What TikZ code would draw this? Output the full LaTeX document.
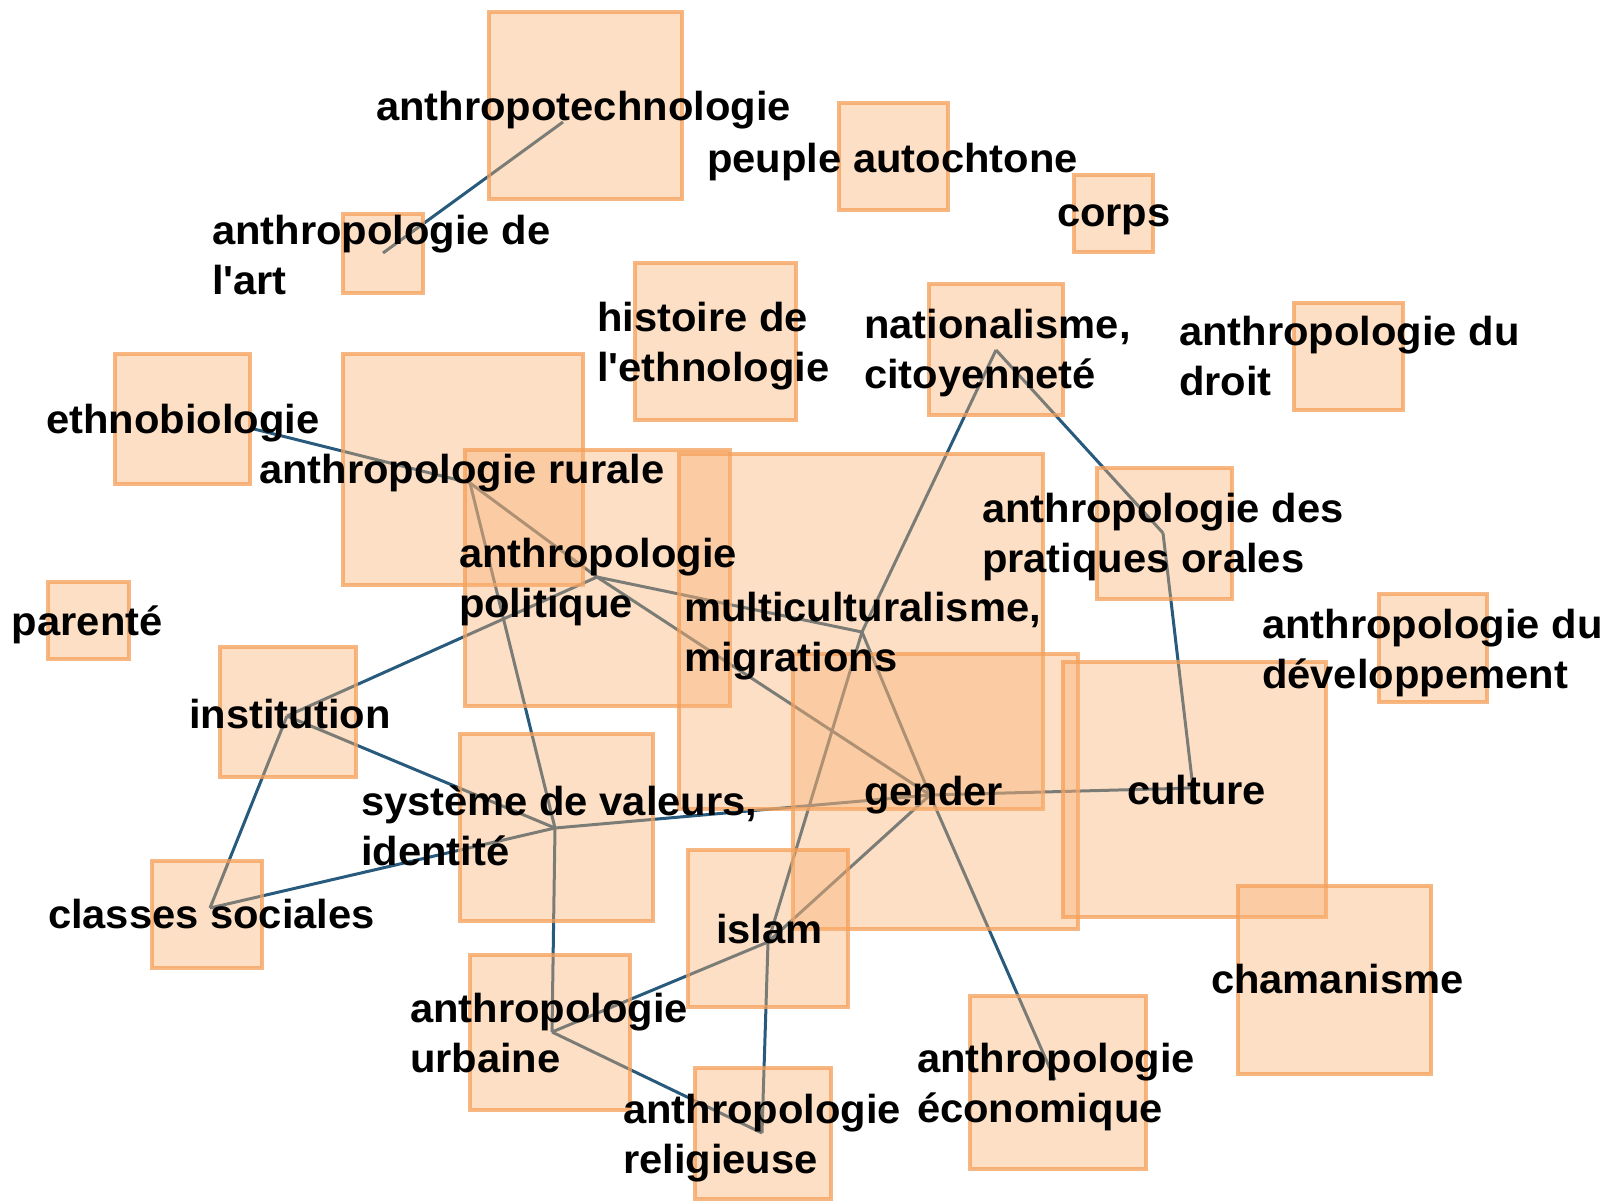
\documentclass[tikz,border=0pt]{standalone}
\usepackage{fontspec}
\newfontfamily\lblfont{Liberation Sans}[FakeStretch=1.03]
\definecolor{boxfill}{RGB}{250,177,112}
\definecolor{boxline}{RGB}{245,160,90}
\definecolor{edgecol}{RGB}{40,90,125}
\newcommand\conceptbox[5]{%
  \node[box, minimum width={(#4-#2)*1pt}, minimum height={(#5-#3)*1pt}] (b-#1) at ({(#2+#4)/2},{(#3+#5)/2}) {};}
\begin{document}
\begin{tikzpicture}[x=1pt,y=-1pt,
  box/.style={draw=boxline, draw opacity=0.75, line width=4pt, fill=boxfill, fill opacity=0.4, inner sep=0pt, outer sep=0pt},
  lbl/.style={font=\lblfont\fontsize{40.5}{50}\selectfont\bfseries, inner sep=0pt, outer sep=0pt, align=left, anchor=base west, text=black},
  link/.style={draw=edgecol, line width=3pt}]
\useasboundingbox (0,0) rectangle (1614,1203);
\fill[white] (0,0) rectangle (1614,1203);

% hub points
\coordinate (techno) at (563,122);
\coordinate (art) at (383,253);
\coordinate (ethno) at (250,428);
\coordinate (rurale) at (470,483);
\coordinate (politique) at (597,577);
\coordinate (multi) at (862,632);
\coordinate (nation) at (996,350);
\coordinate (pratiques) at (1163,533);
\coordinate (culture) at (1193,788);
\coordinate (gender) at (930,795);
\coordinate (institution) at (287,716);
\coordinate (systeme) at (555,828);
\coordinate (classes) at (210,908);
\coordinate (urbaine) at (552,1032);
\coordinate (islam) at (768,942);
\coordinate (religieuse) at (762,1133);
\coordinate (economique) at (1055,1080);

% connectors
\draw[link] (techno) -- (art);
\draw[link] (ethno) -- (rurale);
\draw[link] (rurale) -- (politique);
\draw[link] (rurale) -- (systeme);
\draw[link] (politique) -- (multi);
\draw[link] (politique) -- (gender);
\draw[link] (politique) -- (institution);
\draw[link] (institution) -- (systeme);
\draw[link] (institution) -- (classes);
\draw[link] (classes) -- (systeme);
\draw[link] (systeme) -- (gender);
\draw[link] (systeme) -- (urbaine);
\draw[link] (urbaine) -- (islam);
\draw[link] (urbaine) -- (religieuse);
\draw[link] (islam) -- (religieuse);
\draw[link] (islam) -- (gender);
\draw[link] (islam) -- (multi);
\draw[link] (multi) -- (nation);
\draw[link] (multi) -- (gender);
\draw[link] (gender) -- (economique);
\draw[link] (gender) -- (culture);
\draw[link] (nation) -- (pratiques);
\draw[link] (pratiques) -- (culture);

% boxes
\conceptbox{techno}{489}{12}{682}{199}
\conceptbox{art}{343}{214}{423}{293}
\conceptbox{peuple}{839}{103}{948}{210}
\conceptbox{corps}{1074}{175}{1153}{252}
\conceptbox{histoire}{635}{263}{796}{420}
\conceptbox{nation}{929}{284}{1063}{415}
\conceptbox{droit}{1294}{303}{1403}{410}
\conceptbox{ethno}{115}{354}{250}{484}
\conceptbox{rurale}{343}{354}{583}{585}
\conceptbox{politique}{465}{450}{730}{706}
\conceptbox{multi}{679}{454}{1043}{809}
\conceptbox{pratiques}{1097}{468}{1232}{599}
\conceptbox{parente}{48}{582}{129}{659}
\conceptbox{dev}{1379}{594}{1487}{702}
\conceptbox{gender}{793}{654}{1078}{929}
\conceptbox{culture}{1063}{662}{1326}{917}
\conceptbox{institution}{220}{647}{356}{777}
\conceptbox{systeme}{460}{734}{653}{921}
\conceptbox{classes}{152}{861}{262}{968}
\conceptbox{islam}{688}{850}{848}{1007}
\conceptbox{chamanisme}{1238}{886}{1431}{1074}
\conceptbox{urbaine}{470}{955}{630}{1110}
\conceptbox{economique}{970}{996}{1146}{1169}
\conceptbox{religieuse}{695}{1068}{831}{1199}

% labels (multi-line labels are anchored at the baseline of their last line)
\node[lbl] (t-techno) at (376,120) {anthropotechnologie};
\node[lbl] (t-art) at (212,294) {anthropologie de\\l'art};
\node[lbl] (t-peuple) at (707,172) {peuple autochtone};
\node[lbl] (t-corps) at (1057,226) {corps};
\node[lbl] (t-histoire) at (597,381) {histoire de\\l'ethnologie};
\node[lbl] (t-nation) at (864,388) {nationalisme,\\citoyenneté};
\node[lbl] (t-droit) at (1179,395) {anthropologie du\\droit};
\node[lbl] (t-ethno) at (46,433) {ethnobiologie};
\node[lbl] (t-rurale) at (259,483) {anthropologie rurale};
\node[lbl] (t-politique) at (459,617) {anthropologie\\politique};
\node[lbl] (t-multi) at (684,671) {multiculturalisme,\\migrations};
\node[lbl] (t-pratiques) at (982,572) {anthropologie des\\pratiques orales};
\node[lbl] (t-parente) at (12,635) {parenté};
\node[lbl] (t-dev) at (1262,688) {anthropologie du\\développement};
\node[lbl] (t-institution) at (189,728) {institution};
\node[lbl] (t-systeme) at (361,865) {système de valeurs,\\identité};
\node[lbl] (t-gender) at (864,805) {gender};
\node[lbl] (t-culture) at (1127,804) {culture};
\node[lbl] (t-classes) at (48,928) {classes sociales};
\node[lbl] (t-islam) at (716,943) {islam};
\node[lbl] (t-chamanisme) at (1211,993) {chamanisme};
\node[lbl] (t-urbaine) at (410,1072) {anthropologie\\urbaine};
\node[lbl] (t-economique) at (917,1122) {anthropologie\\économique};
\node[lbl] (t-religieuse) at (623,1173) {anthropologie\\religieuse};
\end{tikzpicture}
\end{document}
